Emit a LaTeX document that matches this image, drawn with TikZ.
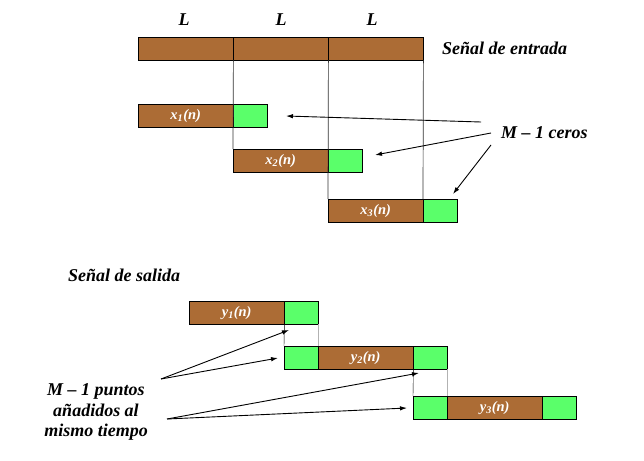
\documentclass[tikz,border=0pt]{standalone}
\usepackage{fontspec}
\setmainfont{Liberation Serif}
\usetikzlibrary{arrows.meta, positioning}
\definecolor{blockbrown}{RGB}{172,108,53}
\definecolor{zerogreen}{RGB}{90,255,106}

\begin{document}
\begin{tikzpicture}[
    x=1pt, y=-1pt,
    every node/.style={font=\bfseries\itshape},
    brownbox/.style={draw, fill=blockbrown, minimum width=95pt, minimum height=23pt, inner sep=0pt, anchor=north west, text=white, font=\bfseries\itshape\fontsize{14.5}{16}\selectfont},
    greenbox/.style={draw, fill=zerogreen, minimum width=34pt, minimum height=23pt, inner sep=0pt, anchor=north west},
    guide/.style={draw=black!80, line width=0.7pt},
    pointer/.style={-{Latex[length=7pt, width=4.5pt]}, line width=0.9pt},
    caption/.style={font=\bfseries\itshape\fontsize{18}{20.5}\selectfont, inner sep=0pt}
]
    \useasboundingbox (0,0) rectangle (644,460);

    % Input signal
    \node[brownbox] (s1) at (138,37) {};
    \node[brownbox] (s2) at (233,37) {};
    \node[brownbox] (s3) at (328,37) {};
    \node[caption] (L1) at (184,20) {L};
    \node[caption] (L2) at (281,20) {L};
    \node[caption] (L3) at (372,20) {L};
    \node[caption, anchor=west] (entrada) at (442,48) {Señal de entrada};

    % Blocks with zeros
    \node[brownbox] (x1) at (138,104) {x\textsubscript{1}(n)};
    \node[greenbox] (x1z) at (233,104) {};
    \node[brownbox] (x2) at (233,149) {x\textsubscript{2}(n)};
    \node[greenbox] (x2z) at (328,149) {};
    \node[brownbox] (x3) at (328,199) {x\textsubscript{3}(n)};
    \node[greenbox] (x3z) at (423,199) {};

    \draw[guide] (s1.south east) -- (x2.north west);
    \draw[guide] (s2.south east) -- (x3.north west);
    \draw[guide] (s3.south east) -- (x3z.north west);

    \node[caption, anchor=west] (ceros) at (501,133) {M -- 1 ceros};
    \coordinate (c1) at (286,116);
    \coordinate (c2) at (375,155);
    \coordinate (c3) at (453,194);
    \draw[pointer] (481,122) -- (c1);
    \draw[pointer] (491,133) -- (c2);
    \draw[pointer] (491,145) -- (c3);

    % Output signal
    \node[caption, anchor=west] (salida) at (68,275) {Señal de salida};
    \node[brownbox] (y1) at (189,301) {y\textsubscript{1}(n)};
    \node[greenbox] (y1z) at (284,301) {};
    \node[greenbox] (y2a) at (284,346) {};
    \node[brownbox] (y2) at (318,346) {y\textsubscript{2}(n)};
    \node[greenbox] (y2z) at (413,346) {};
    \node[greenbox] (y3a) at (413,396) {};
    \node[brownbox] (y3) at (447,396) {y\textsubscript{3}(n)};
    \node[greenbox] (y3z) at (542,396) {};

    \draw (y1.south east) -- (y2a.north west);
    \draw[black!30] (y1z.south east) -- (y2a.north east);
    \draw (y2.south east) -- (y3a.north west);
    \draw[black!30] (y2z.south east) -- (y3a.north east);

    \node[caption, align=center] (puntos) at (96,412) {M -- 1 puntos\\añadidos al\\mismo tiempo};
    \coordinate (p1) at (289,330);
    \coordinate (p2) at (278,358);
    \coordinate (p3) at (419,373);
    \coordinate (p4) at (407,408);
    \draw[pointer] (161,379) -- (p1);
    \draw[pointer] (161,379) -- (p2);
    \draw[pointer] (167,419) -- (p3);
    \draw[pointer] (167,419) -- (p4);
\end{tikzpicture}
\end{document}
